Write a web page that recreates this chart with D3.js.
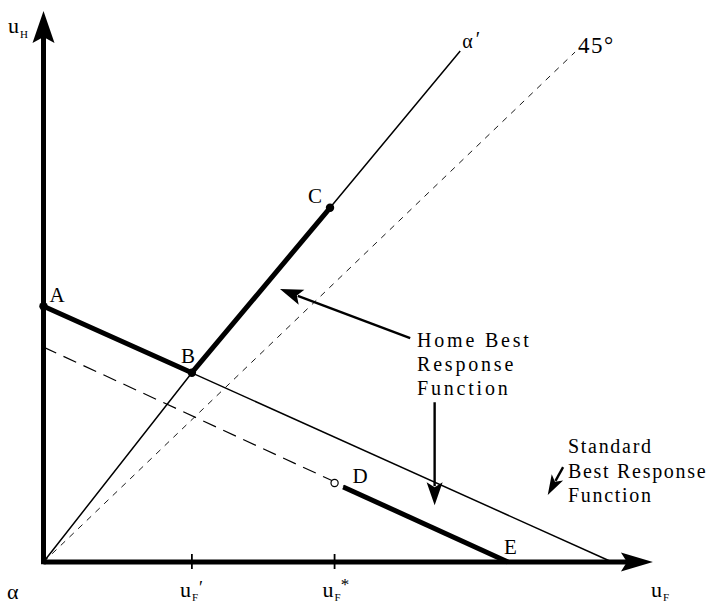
<!DOCTYPE html>
<html>
<head>
<meta charset="utf-8">
<script src="https://cdn.jsdelivr.net/npm/d3@7/dist/d3.min.js"></script>
<style>
  html, body { margin: 0; padding: 0; background: #fff; }
  svg { display: block; }
</style>
</head>
<body>
<script>
// Best-response diagram in (u_F, u_H) utility space.

// Key points [u_F, u_H]
const pointNames = ["A", "B", "C", "D", "E"];
const pointValues = [[0, 4.50], [2.61, 3.33], [5.04, 6.23], [5.12, 1.39], [8.17, 0]];

// Standard best response (thin solid line)
const standardBR = [[0, 4.50], [10, 0]];
// Shifted best response (dashed), ending at E
const shiftedBR = [[0, 3.78], [8.17, 0]];
// Ray alpha' from the origin through B and C
const alphaRay = [[0, 0], [2.61, 3.33], [5.04, 6.23], [7.33, 8.99]];
// 45 degree reference line
const line45 = [[0, 0], [9.35, 8.97]];

// Axis ticks on u_F
const tickValues = [2.61, 5.12];
const tickLabels = ["F′", "F*"];

// Axis extents
const xAxisEnd = 10.72;
const yAxisEnd = 9.69;

// Annotation arrows: [tail, tip]
const arrows = [
  [[6.45, 3.94], [4.16, 4.80]],
  [[6.88, 2.81], [6.88, 1.00]],
  [[9.14, 1.67], [8.87, 1.18]]
];

const FONT = "'Liberation Serif', 'Times New Roman', Times, 'DejaVu Serif', serif";
const W = 717, H = 604;
const x = d3.scaleLinear().domain([0, 10]).range([43.5, 612]);
const y = d3.scaleLinear().domain([0, 10]).range([562, -6.5]);

const svg = d3.select("body").append("svg").attr("width", W).attr("height", H)
  .style("font-family", FONT);
const line = d3.line().x(d => x(d[0])).y(d => y(d[1]));

function txt(px, py, size) {
  return svg.append("text").attr("x", px).attr("y", py)
    .attr("font-family", FONT).attr("font-size", size).attr("fill", "#000");
}

// 45 degree line
svg.append("path").attr("d", line(line45))
  .attr("fill", "none").attr("stroke", "#000").attr("stroke-width", 0.9)
  .attr("stroke-dasharray", "6,6");

// alpha' ray
svg.append("path").attr("d", line(alphaRay))
  .attr("fill", "none").attr("stroke", "#000").attr("stroke-width", 1.5);

// Standard best response
svg.append("path").attr("d", line(standardBR))
  .attr("fill", "none").attr("stroke", "#000").attr("stroke-width", 1.5);

// Dashed best response
svg.append("path").attr("d", line(shiftedBR))
  .attr("fill", "none").attr("stroke", "#000").attr("stroke-width", 1.2)
  .attr("stroke-dasharray", "14,8");

const P = {};
pointNames.forEach((n, i) => P[n] = pointValues[i]);

// Home best response: thick segments A-B-C and D-E
svg.append("path").attr("d", line([P.A, P.B, P.C]))
  .attr("fill", "none").attr("stroke", "#000").attr("stroke-width", 5)
  .attr("stroke-linejoin", "round");
// D-E segment starts just past the open circle at D
const t0 = 0.05;
const dStart = [P.D[0] + (P.E[0] - P.D[0]) * t0, P.D[1] + (P.E[1] - P.D[1]) * t0];
svg.append("path").attr("d", line([dStart, P.E]))
  .attr("fill", "none").attr("stroke", "#000").attr("stroke-width", 5);

// Axes
svg.append("path").attr("d", line([[0, 0], [xAxisEnd - 0.45, 0]]))
  .attr("stroke", "#000").attr("stroke-width", 5).attr("fill", "none");
svg.append("path").attr("d", line([[0, -0.04], [0, yAxisEnd - 0.45]]))
  .attr("stroke", "#000").attr("stroke-width", 5).attr("fill", "none");

// Notched arrow head at pixel tip, pointing along angle
function head(tx, ty, ang, len, hw, notch) {
  const c = Math.cos(ang), s = Math.sin(ang);
  const bx = tx - c * len, by = ty - s * len;
  const p = [
    [tx, ty],
    [bx - s * hw, by + c * hw],
    [tx - c * (len - notch), ty - s * (len - notch)],
    [bx + s * hw, by - c * hw]
  ];
  return "M" + p.map(q => q.join(",")).join("L") + "Z";
}

svg.append("path").attr("d", head(x(xAxisEnd), y(0), 0, 32, 9.5, 6)).attr("fill", "#000");
svg.append("path").attr("d", head(x(0), y(yAxisEnd), -Math.PI / 2, 32, 11, 6)).attr("fill", "#000");

// Ticks on u_F axis
svg.selectAll("line.tick").data(tickValues).enter().append("line")
  .attr("x1", d => x(d)).attr("x2", d => x(d))
  .attr("y1", y(0) - 8).attr("y2", y(0) + 7)
  .attr("stroke", "#000").attr("stroke-width", 1.8);

// Annotation arrows
arrows.forEach(([a, b], i) => {
  const x1 = x(a[0]), y1 = y(a[1]), x2 = x(b[0]), y2 = y(b[1]);
  const ang = Math.atan2(y2 - y1, x2 - x1);
  const len = i === 2 ? 20 : 23;
  const hw = i === 2 ? 6.5 : 8;
  svg.append("line")
    .attr("x1", x1).attr("y1", y1)
    .attr("x2", x2 - Math.cos(ang) * (len - 4)).attr("y2", y2 - Math.sin(ang) * (len - 4))
    .attr("stroke", "#000").attr("stroke-width", 2.4);
  svg.append("path").attr("d", head(x2, y2, ang, len, hw, 5)).attr("fill", "#000");
});

// Points
["A", "B", "C"].forEach(n => {
  svg.append("circle").attr("cx", x(P[n][0])).attr("cy", y(P[n][1])).attr("r", 4.2).attr("fill", "#000");
});
svg.append("circle").attr("cx", x(P.D[0])).attr("cy", y(P.D[1])).attr("r", 3.6)
  .attr("fill", "#fff").attr("stroke", "#000").attr("stroke-width", 1.2);

// Point labels (offsets in px)
const labelOffsets = { A: [6, -4], B: [-11, -10], C: [-22, -5], D: [18, 0], E: [-4, -8] };
pointNames.forEach(n => {
  txt(x(P[n][0]) + labelOffsets[n][0], y(P[n][1]) + labelOffsets[n][1], 21).text(n);
});

// Axis labels
const uH = txt(8, 33, 22);
uH.append("tspan").text("u");
uH.append("tspan").attr("font-size", 11).attr("dx", 1).attr("dy", 5).text("H");

const uF = txt(651, 597, 22);
uF.append("tspan").text("u");
uF.append("tspan").attr("font-size", 11).attr("dx", 1).attr("dy", 4).text("F");

txt(7, 599, 22).text("α");

tickValues.forEach((v, i) => {
  const t = txt(x(v) - 12, 597, 22);
  t.append("tspan").text("u");
  t.append("tspan").attr("font-size", 11).attr("dx", 1).attr("dy", 4).text(tickLabels[i][0]);
  if (i === 0) {
    t.append("tspan").attr("font-size", 18).attr("dx", 1).attr("dy", -7).text("′");
  } else {
    t.append("tspan").attr("font-size", 17).attr("dx", 0).attr("dy", -11).text("*");
  }
});

// Line labels
const ap = txt(x(alphaRay[3][0]) + 2, y(alphaRay[3][1]) - 3, 20);
ap.append("tspan").text("α");
ap.append("tspan").attr("dx", 3).attr("dy", -2).text("′");

txt(x(line45[1][0]) + 3, y(line45[1][1]) + 1, 23).attr("letter-spacing", 1.5).text("45°");

// Annotation text blocks
function block(lines, x0, y0, dy, ls) {
  lines.forEach((s, i) => {
    txt(x0, y0 + i * dy, 20).attr("letter-spacing", ls).text(s);
  });
}
block(["Home Best", "Response", "Function"], 417, 347, 24, 2.8);
block(["Standard", "Best Response", "Function"], 568, 453, 24.5, 1.7);
</script>
</body>
</html>
